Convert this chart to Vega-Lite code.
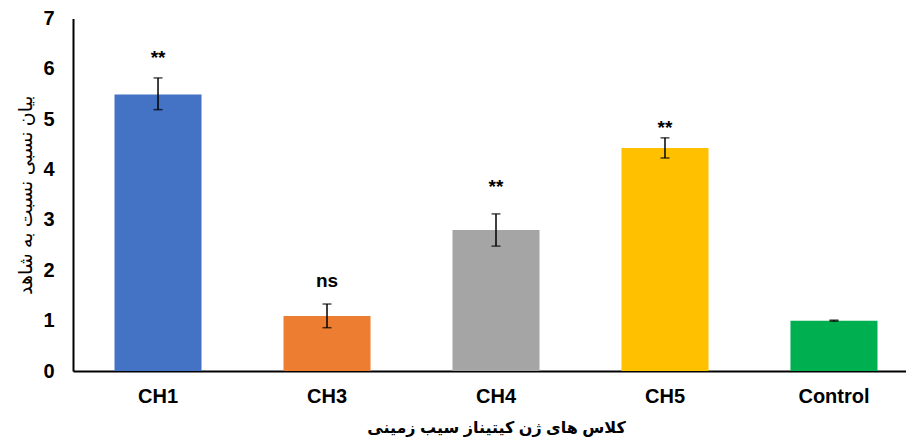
{
  "$schema": "https://vega.github.io/schema/vega-lite/v6.json",
  "autosize": {"type": "none"},
  "padding": {"left": 73, "top": 18.5, "right": 0, "bottom": 70},
  "width": 833,
  "height": 352.5,
  "background": "white",
  "config": {
    "view": {"stroke": null},
    "font": "Liberation Sans"
  },
  "data": {
    "values": [
      {"group": "CH1", "value": 5.49, "lo": 5.19, "hi": 5.82, "sig": "**", "sig_at": 6.22},
      {"group": "CH3", "value": 1.09, "lo": 0.86, "hi": 1.33, "sig": "ns", "sig_at": 1.79},
      {"group": "CH4", "value": 2.8, "lo": 2.48, "hi": 3.12, "sig": "**", "sig_at": 3.65},
      {"group": "CH5", "value": 4.43, "lo": 4.23, "hi": 4.63, "sig": "**", "sig_at": 4.83},
      {"group": "Control", "value": 1.0, "lo": 0.99, "hi": 1.01, "sig": "", "sig_at": 1.0}
    ]
  },
  "encoding": {
    "x": {
      "field": "group",
      "type": "nominal",
      "sort": null,
      "scale": {"range": [0, 846], "paddingInner": 0.485, "paddingOuter": 0.2456},
      "axis": {
        "title": "کلاس های ژن کیتیناز سیب زمینی",
        "titleFont": "Liberation Sans, DejaVu Sans",
        "titleFontSize": 16,
        "titleFontWeight": "bold",
        "titleColor": "black",
        "titlePadding": 13,
        "labelAngle": 0,
        "labelFont": "Liberation Sans",
        "labelFontSize": 20,
        "labelFontWeight": "bold",
        "labelColor": "black",
        "labelPadding": 15,
        "ticks": false,
        "domainColor": "black",
        "domainWidth": 2,
        "grid": false
      }
    }
  },
  "layer": [
    {
      "mark": {"type": "bar"},
      "encoding": {
        "y": {
          "field": "value",
          "type": "quantitative",
          "scale": {"domain": [0, 7]},
          "axis": {
            "title": "بیان نسبی نسبت به شاهد",
            "titleFont": "Liberation Sans, DejaVu Sans",
            "titleFontSize": 19,
            "titleFontWeight": "normal",
            "titleColor": "black",
            "titlePadding": 7,
            "values": [0, 1, 2, 3, 4, 5, 6, 7],
            "labelFont": "Liberation Sans",
            "labelFontSize": 20,
            "labelFontWeight": "bold",
            "labelColor": "black",
            "labelPadding": 19,
            "ticks": false,
            "grid": false,
            "domainColor": "black",
            "domainWidth": 2
          }
        },
        "color": {
          "field": "group",
          "type": "nominal",
          "scale": {
            "domain": ["CH1", "CH3", "CH4", "CH5", "Control"],
            "range": ["#4472C4", "#ED7D31", "#A5A5A5", "#FFC000", "#00B050"]
          },
          "legend": null
        }
      }
    },
    {
      "mark": {"type": "rule", "color": "black", "strokeWidth": 1.5},
      "encoding": {
        "y": {"field": "lo", "type": "quantitative"},
        "y2": {"field": "hi"}
      }
    },
    {
      "mark": {"type": "tick", "color": "black", "orient": "horizontal", "size": 9, "thickness": 1.5},
      "encoding": {
        "y": {"field": "lo", "type": "quantitative"}
      }
    },
    {
      "mark": {"type": "tick", "color": "black", "orient": "horizontal", "size": 9, "thickness": 1.5},
      "encoding": {
        "y": {"field": "hi", "type": "quantitative"}
      }
    },
    {
      "mark": {"type": "text", "font": "Liberation Sans", "fontSize": 19, "fontWeight": "bold", "color": "black", "baseline": "middle"},
      "encoding": {
        "y": {"field": "sig_at", "type": "quantitative"},
        "text": {"field": "sig"}
      }
    }
  ]
}
